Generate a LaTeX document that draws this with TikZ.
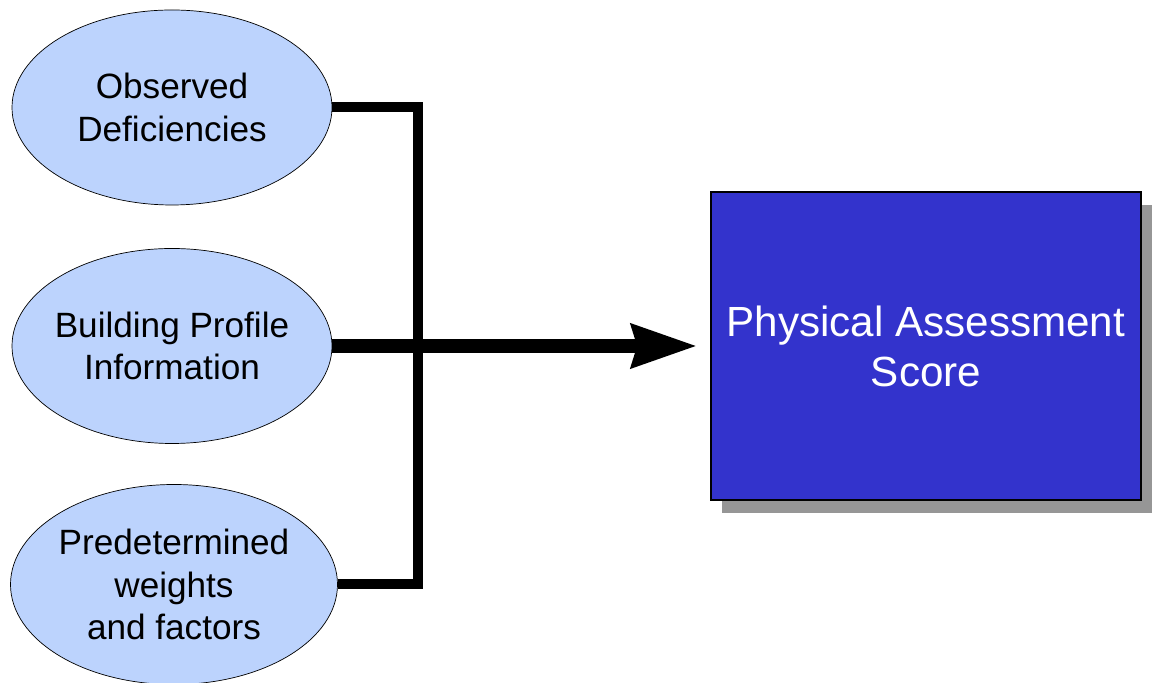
\documentclass[tikz,border=0pt]{standalone}
\usepackage{fontspec}
\setmainfont{Liberation Sans}
\usepackage{tikz}
\usetikzlibrary{shapes.geometric,shadows,arrows.meta}
\definecolor{bubbleblue}{HTML}{BCD3FD}
\definecolor{scoreblue}{HTML}{3333CC}
\definecolor{shadowgray}{HTML}{969696}

\begin{document}
\begin{tikzpicture}[node distance=4.77cm,
  bubble/.style={ellipse, draw=black, thin, fill=bubbleblue, minimum width=6.4cm, minimum height=3.9cm, inner sep=0pt},
  bubbletext/.style={align=center, font=\fontsize{20}{24}\selectfont, inner sep=0pt},
  scorebox/.style={rectangle, draw=black, line width=0.8pt, fill=scoreblue, minimum width=8.6cm, minimum height=6.16cm, text=white, align=center, font=\fontsize{24}{28.5}\selectfont, drop shadow={shadow xshift=0.22cm, shadow yshift=-0.26cm, fill=shadowgray, opacity=1}},
  bar/.style={line width=0.2cm},
  flow/.style={line width=0.28cm, -{Stealth[length=1.3cm, width=0.84cm, inset=0.1cm]}}]
\useasboundingbox (0,0) rectangle (23.04,13.66);
\node[bubble, label={[bubbletext]center:Building Profile\\Information}] (profile) at (3.44,6.74) {};
\node[bubble, above of=profile, label={[bubbletext]center:Observed\\Deficiencies}] (observed) {};
\node[bubble, below of=profile, xshift=0.04cm, minimum width=6.54cm, minimum height=4cm, label={[bubbletext]center:Predetermined\\weights\\ and factors}] (factors) {};
\node[scorebox, right of=profile, xshift=10.31cm] (score) {Physical Assessment\\Score};
\coordinate (spine) at (8.36,0);
% bracket joining the three inputs
\draw[bar] (observed.east) -- (observed.east -| spine) -- (factors.east -| spine) -- (factors.east);
\draw[flow] (profile.east) -- ([xshift=-0.26cm]score.west);
\end{tikzpicture}
\end{document}
